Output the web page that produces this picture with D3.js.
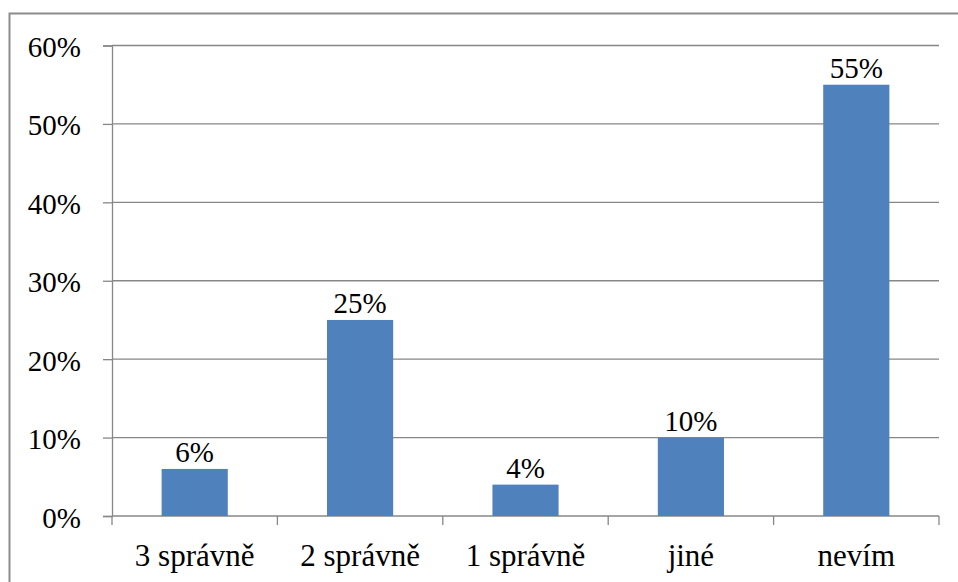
<!DOCTYPE html>
<html>
<head>
<meta charset="utf-8">
<script src="https://cdn.jsdelivr.net/npm/d3@7"></script>
<style>
  body { margin: 0; font-family: "Liberation Serif", serif; }
</style>
</head>
<body>
<div id="wrap" style="font-family:'Liberation Serif', serif">
<svg id="chart" width="958" height="582" font-family="Liberation Serif"></svg>
</div>
<script>
// Answer categories and their shares (%)
const categories = ["3 správně", "2 správně", "1 správně", "jiné", "nevím"];
const values = [6, 25, 4, 10, 55];
const yTicks = [0, 10, 20, 30, 40, 50, 60];

const FONT = "Liberation Serif";
const GRID = "#878787";
const W = 958, H = 582;
const margin = { left: 112, right: 19, top: 45.5, bottom: 66 };
const svg = d3.select("#chart");

// Outer chart frame (runs off the right and bottom edges)
svg.append("rect")
  .attr("x", 9.5).attr("y", 13.5)
  .attr("width", 960).attr("height", 600)
  .attr("fill", "none").attr("stroke", "#8c8c8c").attr("stroke-width", 2);

const x = d3.scaleBand()
  .domain(categories)
  .range([margin.left, W - margin.right])
  .paddingInner(0.6).paddingOuter(0.3);

const y = d3.scaleLinear()
  .domain([0, 60])
  .range([H - margin.bottom, margin.top]);

// Horizontal gridlines
svg.append("g")
  .selectAll("line").data(yTicks.filter(d => d > 0)).join("line")
  .attr("x1", margin.left).attr("x2", W - margin.right)
  .attr("y1", d => y(d)).attr("y2", d => y(d))
  .attr("stroke", GRID).attr("stroke-width", 1.3);

// Y axis
const yAxis = svg.append("g")
  .attr("transform", `translate(${margin.left},0)`)
  .call(d3.axisLeft(y).tickValues(yTicks).tickSize(9).tickPadding(22)
    .tickFormat(d => d + "%"));
yAxis.attr("font-family", FONT).attr("font-size", 29);
yAxis.selectAll("path, line").attr("stroke", GRID).attr("stroke-width", 1.3);
yAxis.selectAll("text")
  .attr("class", "lbl")
  .attr("font-size", 29)
  .attr("fill", "#000")
  .attr("dy", "0.38em");

// X axis baseline and category dividers
const xAxis = svg.append("g")
  .attr("transform", `translate(0,${y(0)})`);
xAxis.append("line")
  .attr("x1", margin.left).attr("x2", W - margin.right)
  .attr("stroke", GRID).attr("stroke-width", 1.3);
const dividers = d3.range(categories.length + 1)
  .map(i => margin.left + i * (W - margin.right - margin.left) / categories.length);
xAxis.selectAll("line.div").data(dividers).join("line")
  .attr("class", "div")
  .attr("x1", d => d).attr("x2", d => d)
  .attr("y1", 0).attr("y2", 9)
  .attr("stroke", GRID).attr("stroke-width", 1.3);
xAxis.selectAll("text").data(categories).join("text")
  .attr("class", "lbl")
  .attr("x", d => x(d) + x.bandwidth() / 2)
  .attr("y", 50)
  .attr("text-anchor", "middle")
  .attr("font-size", 31)
  .attr("fill", "#000")
  .text(d => d);

// Bars
svg.append("g")
  .selectAll("rect").data(values).join("rect")
  .attr("x", (d, i) => x(categories[i]))
  .attr("y", d => y(d))
  .attr("width", x.bandwidth())
  .attr("height", d => y(0) - y(d))
  .attr("fill", "#4f81bd");

// Value labels
svg.append("g")
  .selectAll("text").data(values).join("text")
  .attr("class", "lbl")
  .attr("x", (d, i) => x(categories[i]) + x.bandwidth() / 2)
  .attr("y", d => y(d) - 7)
  .attr("text-anchor", "middle")
  .attr("font-size", 29)
  .attr("fill", "#000")
  .text(d => d + "%");

// Apply the serif face to every label, and again once the face is ready
const applyFont = () => svg.selectAll("text.lbl").attr("font-family", FONT);
applyFont();
if (document.fonts && document.fonts.load) {
  document.fonts.load('29px "Liberation Serif"').then(applyFont);
}
</script>
</body>
</html>
